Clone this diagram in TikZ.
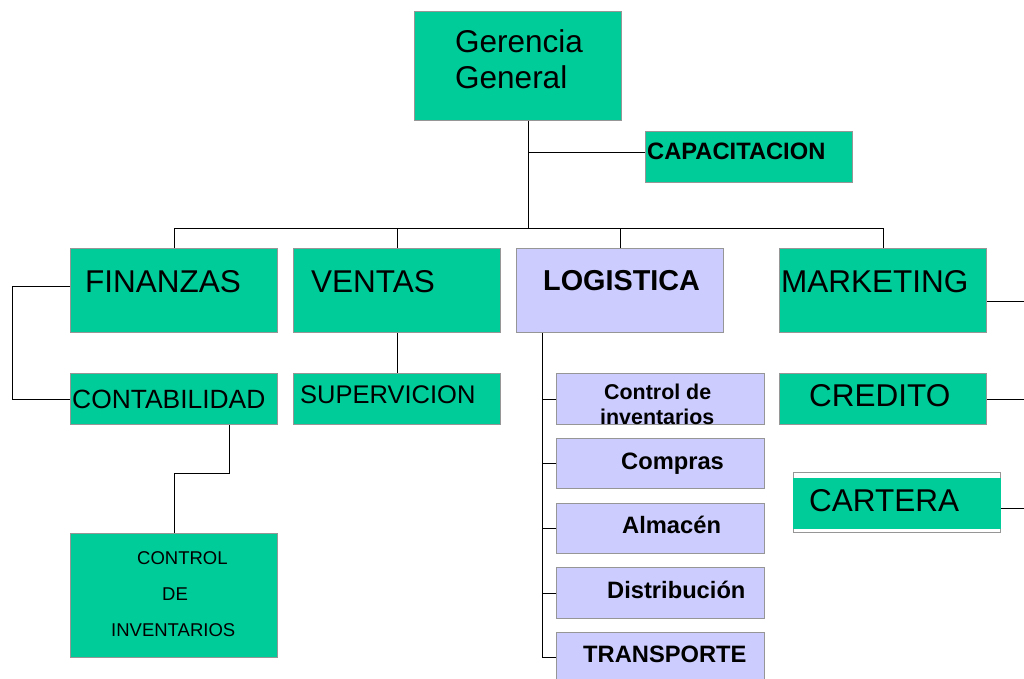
\documentclass[tikz,border=0pt]{standalone}
\usepackage{fontspec}
\setmainfont{Liberation Sans}
\definecolor{boxgreen}{RGB}{0,204,153}
\definecolor{lav}{RGB}{204,204,255}
\definecolor{edgegray}{RGB}{150,150,150}
\begin{document}
\begin{tikzpicture}[x=1pt,y=-1pt,
  gbox/.style={draw=edgegray, line width=1pt, fill=boxgreen, anchor=north west, inner sep=0pt, minimum width=207pt},
  lbox/.style={gbox, fill=lav},
  txt/.style={anchor=base west, inner sep=0pt},
  big/.style={font=\fontsize{31.5pt}{36pt}\selectfont},
  conn/.style={draw=black, line width=1pt}]
\useasboundingbox (0,0) rectangle (1024,679);
% boxes
\node[gbox, minimum height=109pt] (ger) at (414,11) {};
\node[gbox, minimum height=51pt] (cap) at (645,131) {};
\node[gbox, minimum height=84pt] (fin) at (70,248) {};
\node[gbox, minimum height=84pt] (ven) at (293,248) {};
\node[lbox, minimum height=84pt] (log) at (516,248) {};
\node[gbox, minimum height=84pt] (mkt) at (779,248) {};
\node[gbox, minimum height=51pt] (con) at (70,373) {};
\node[gbox, minimum height=51pt] (sup) at (293,373) {};
\node[gbox, minimum height=51pt] (cre) at (779,373) {};
\node[gbox, fill=white, minimum height=60pt] (car) at (793,472) {};
\node[fill=boxgreen, anchor=north west, inner sep=0pt, minimum width=208pt, minimum height=51pt] (carin) at (793,478) {};
\node[gbox, minimum height=124pt] (ctl) at (70,533) {};
\node[lbox, minimum height=51pt, minimum width=208pt] (cdi) at (556,373) {};
\node[lbox, minimum height=50pt, minimum width=208pt] (com) at (556,438) {};
\node[lbox, minimum height=50pt, minimum width=208pt] (alm) at (556,503) {};
\node[lbox, minimum height=51pt, minimum width=208pt] (dis) at (556,567) {};
\node[lbox, minimum height=50pt, minimum width=208pt] (tra) at (556,632) {};
% texts
\node[txt, big] (tger1) at (455,53) {Gerencia};
\node[txt, big] (tger2) at (455,89) {General};
\node[txt, font=\bfseries\fontsize{23.7pt}{28pt}\selectfont] (tcap) at (647,160) {CAPACITACION};
\node[txt, big] (tfin) at (85,292) {FINANZAS};
\node[txt, big] (tven) at (311,292) {VENTAS};
\node[txt, font=\bfseries\fontsize{28.8pt}{34pt}\selectfont] (tlog) at (543,290) {LOGISTICA};
\node[txt, big] (tmkt) at (781,292) {MARKETING};
\node[txt, font=\fontsize{26.4pt}{31pt}\selectfont] (tcon) at (72,408) {CONTABILIDAD};
\node[txt, font=\fontsize{25.5pt}{30pt}\selectfont] (tsup) at (300,403) {SUPERVICION};
\node[txt, big] (tcre) at (809,406) {CREDITO};
\node[txt, big] (tcar) at (809,511) {CARTERA};
\node[txt, font=\fontsize{18.5pt}{22pt}\selectfont] (tctl1) at (137,564) {CONTROL};
\node[txt, font=\fontsize{18.5pt}{22pt}\selectfont] (tctl2) at (162,600) {DE};
\node[txt, font=\fontsize{18.5pt}{22pt}\selectfont] (tctl3) at (111,636) {INVENTARIOS};
\node[txt, font=\bfseries\fontsize{21.4pt}{25pt}\selectfont] (tcdi1) at (604,399) {Control de};
\node[txt, font=\bfseries\fontsize{21.4pt}{25pt}\selectfont] (tcdi2) at (600,424) {inventarios};
\node[txt, font=\bfseries\fontsize{23.7pt}{28pt}\selectfont] (tcom) at (621,469.5) {Compras};
\node[txt, font=\bfseries\fontsize{23.7pt}{28pt}\selectfont] (talm) at (622,533.5) {Almacén};
\node[txt, font=\bfseries\fontsize{23.7pt}{28pt}\selectfont] (tdis) at (607,598.5) {Distribución};
\node[txt, font=\bfseries\fontsize{23.7pt}{28pt}\selectfont] (ttra) at (583,662) {TRANSPORTE};
% free ends at right edge
\coordinate (e1) at (1024,301);
\coordinate (e2) at (1024,399);
\coordinate (e3) at (1024,508);
% connectors
\draw[conn] ([xshift=10.5pt]ger.south) -- ++(0,108);
\draw[conn] ([yshift=4.5pt]cap.west) -- ++(-117,0);
\draw[conn] (fin.north) -- ++(0,-20) -| (mkt.north);
\draw[conn] (ven.north) -- ++(0,-20);
\draw[conn] (log.north) -- ++(0,-20);
\draw[conn] ([yshift=4pt]fin.west) -- ++(-58,0) |- (con.west);
\draw[conn] ([xshift=55.5pt]con.south) -- ++(0,48) -| (ctl.north);
\draw[conn] (ven.south) -- (sup.north);
\draw[conn] ([xshift=-77.5pt]log.south) |- (tra.west);
\draw[conn] (cdi.west) -- ++(-14,0);
\draw[conn] (com.west) -- ++(-14,0);
\draw[conn] (alm.west) -- ++(-14,0);
\draw[conn] (dis.west) -- ++(-14,0);
\draw[conn] (e1 -| mkt.east) -- (e1);
\draw[conn] (e2 -| cre.east) -- (e2);
\draw[conn] (e3 -| car.east) -- (e3);
\end{tikzpicture}
\end{document}
